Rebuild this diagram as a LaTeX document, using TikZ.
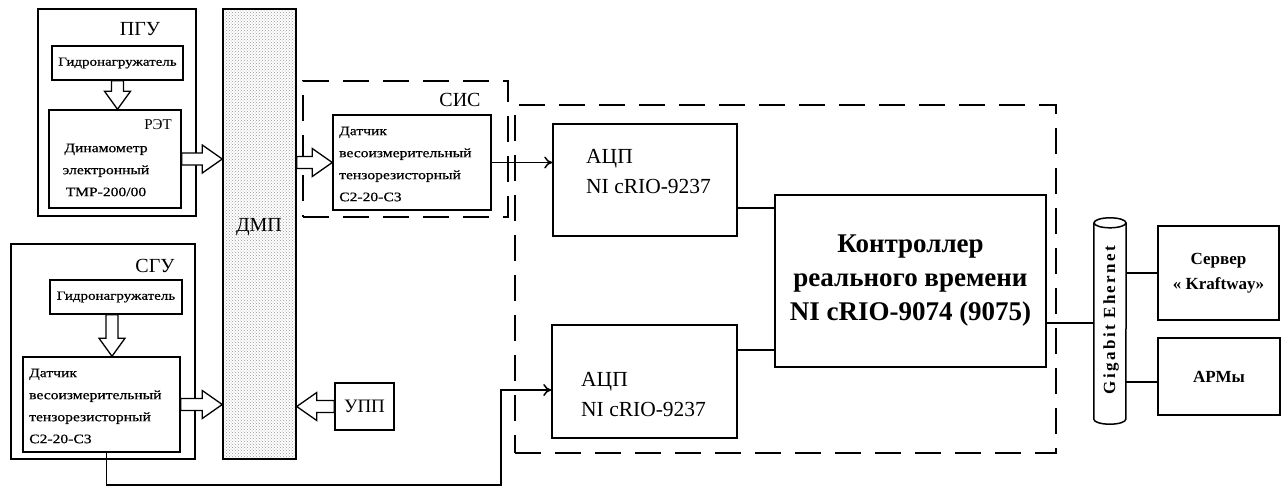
\documentclass[tikz,border=0pt]{standalone}
\usepackage{fontspec}
\setmainfont{Liberation Serif}
\newfontfamily\boxfont[FakeStretch=1.2,FakeBold=0.6]{Liberation Serif}
\newfontfamily\gigafont[LetterSpace=14]{Liberation Serif}
\usetikzlibrary{calc,patterns,arrows.meta}
\begin{document}
\begin{tikzpicture}[x=1pt,y=-1pt,
 box/.style={draw, line width=1.5pt, inner sep=0pt},
 dbox/.style={draw, line width=1.5pt, dash pattern=on 26pt off 14pt, inner sep=0pt},
 small/.style={font=\boxfont\fontsize{13}{22}\selectfont, align=left, inner sep=0pt},
 lbl/.style={font=\fontsize{20}{24}\selectfont, inner sep=0pt},
 adc/.style={font=\fontsize{21.5}{30}\selectfont, align=left, inner sep=0pt, anchor=west},
 big/.style={font=\bfseries\fontsize{17}{25}\selectfont, align=center, inner sep=0pt},
 conn/.style={line width=1.5pt},
 hollowright/.style={draw, fill=white, line width=1.3pt, to path={let \p1=(\tikztostart), \p2=(\tikztotarget) in
   (\x1,\y1+6pt) -- (\x2-20pt,\y1+6pt) -- (\x2-20pt,\y1+14pt) -- (\x2,\y1) -- (\x2-20pt,\y1-14pt) -- (\x2-20pt,\y1-6pt) -- (\x1,\y1-6pt) -- cycle}},
 hollowleft/.style={draw, fill=white, line width=1.3pt, to path={let \p1=(\tikztostart), \p2=(\tikztotarget) in
   (\x1,\y1+6pt) -- (\x2+20pt,\y1+6pt) -- (\x2+20pt,\y1+14pt) -- (\x2,\y1) -- (\x2+20pt,\y1-14pt) -- (\x2+20pt,\y1-6pt) -- (\x1,\y1-6pt) -- cycle}},
 hollowdown/.style={draw, fill=white, line width=1.3pt, to path={let \p1=(\tikztostart), \p2=(\tikztotarget) in
   (\x1-6pt,\y1) -- (\x1-6pt,\y2+18pt) -- (\x1-13pt,\y2+18pt) -- (\x1,\y2) -- (\x1+13pt,\y2+18pt) -- (\x1+6pt,\y2+18pt) -- (\x1+6pt,\y1) -- cycle}},
]
\useasboundingbox (0,0) rectangle (1287,488);
\fill[white] (0,0) rectangle (1287,488);

% groups
\node[box, minimum width=158pt, minimum height=207pt] (pgu) at (117,112.5) {};
\node[box, minimum width=184pt, minimum height=215pt] (sgu) at (103,351.5) {};
\node[dbox, minimum width=205pt, minimum height=136pt] (sis) at (405.5,149) {};
\node[dbox, minimum width=541pt, minimum height=348pt] (daq) at (785.5,279) {};

\node[lbl] (pgulbl) at (140,29) {ПГУ};
\node[lbl] (sgulbl) at (155,266) {СГУ};
\node[lbl] (sislbl) at (460,100) {СИС};

% PGU
\node[box, minimum width=131pt, minimum height=34pt, font=\boxfont\fontsize{12.5}{15}\selectfont] (g1) at (117.5,63) {Гидронагружатель};
\node[box, minimum width=132pt, minimum height=98pt] (ret) at (115,159) {};
\node[font=\fontsize{15}{18}\selectfont, inner sep=0pt] (retlbl) at (158,125) {РЭТ};
\node[small, align=center] (rettxt) at (106,170) {Динамометр\\электронный\\ТМР-200/00};

% DMP
\node[box, minimum width=73pt, minimum height=450pt, pattern=crosshatch dots, pattern color=gray!80] (dmp) at (259.5,234) {};
\node[lbl] (dmplbl) at (259,227) {ДМП};

% SIS sensor
\node[box, minimum width=158pt, minimum height=95pt] (s1) at (412,162.5) {};
\node[small, anchor=west] (s1txt) at (339,164) {Датчик\\весоизмерительный\\тензорезисторный\\С2-20-С3};

% SGU
\node[box, minimum width=132pt, minimum height=34pt, font=\boxfont\fontsize{12.5}{15}\selectfont] (g2) at (116,297) {Гидронагружатель};
\node[box, minimum width=157pt, minimum height=95pt] (s2) at (101.5,404.5) {};
\node[small, anchor=west] (s2txt) at (29,406) {Датчик\\весоизмерительный\\тензорезисторный\\С2-20-С3};

% UPP
\node[box, minimum width=59pt, minimum height=47pt, font=\fontsize{19}{22}\selectfont] (upp) at (364.5,406.5) {УПП};

% ADCs and controller
\node[box, minimum width=184pt, minimum height=112pt] (adc1) at (645,180) {};
\node[adc] (adc1txt) at (586,172) {АЦП\\NI cRIO-9237};
\node[box, minimum width=185pt, minimum height=113pt] (adc2) at (644.5,381.5) {};
\node[adc] (adc2txt) at (581,394) {АЦП\\NI cRIO-9237};
\node[box, minimum width=271pt, minimum height=172pt, font=\bfseries\fontsize{27}{34}\selectfont, align=center] (ctrl) at (910.5,281) {Контроллер\\реального времени\\NI cRIO-9074 (9075)};

% Ethernet
\node[inner sep=0pt, minimum width=32pt, minimum height=196pt] (eth) at (1110,321) {};
\draw[line width=1.5pt] (eth.north west) -- (eth.south west) arc[start angle=180, end angle=360, x radius=16pt, y radius=5pt] -- (eth.north east);
\draw[line width=1.5pt] (eth.north) ellipse[x radius=16pt, y radius=5pt];
\node[rotate=90, font=\gigafont\bfseries\fontsize{17}{20}\selectfont, inner sep=0pt] (ethlbl) at (1111,320) {Gigabit Ehernet};

\node[box, minimum width=121pt, minimum height=94pt, big] (srv) at (1218.5,273) {Сервер\\« Kraftway»};
\node[box, minimum width=122pt, minimum height=77pt, big] (arm) at (1219,376.5) {АРМы};

% hollow arrows
\draw[hollowdown] (g1.south) to (g1.south |- ret.north);
\draw[hollowdown] ([xshift=-4pt]g2.south) to ([xshift=-4pt]g2.south |- s2.north);
\draw[hollowright] (ret.east) to (ret.east -| dmp.west);
\draw[hollowright] (dmp.east |- s1.west) to (s1.west);
\draw[hollowright] (s2.east) to (s2.east -| dmp.west);
\draw[hollowleft] (upp.west) to (upp.west -| dmp.east);

% connectors
\coordinate (bend) at (501,485);
\coordinate (in2) at (0,390);
\draw[conn, -{To[length=8pt,width=12pt]}] (s1.east) -- (s1.east -| adc1.west);
\draw[conn, -{To[length=8pt,width=12pt]}] ([xshift=5pt]s2.south) |- (bend) |- (adc2.west |- in2);
\coordinate (l1) at (0,208);
\coordinate (l2) at (0,350);
\coordinate (l3) at (0,323);
\coordinate (l4) at (0,382);
\draw[conn] (adc1.east |- l1) -- (ctrl.west |- l1);
\draw[conn] (adc2.east |- l2) -- (ctrl.west |- l2);
\draw[conn] (ctrl.east |- l3) -- (eth.west |- l3);
\draw[conn] (eth.east |- srv.west) -- (srv.west);
\draw[conn] (eth.east |- l4) -- (arm.west |- l4);
\end{tikzpicture}
\end{document}
